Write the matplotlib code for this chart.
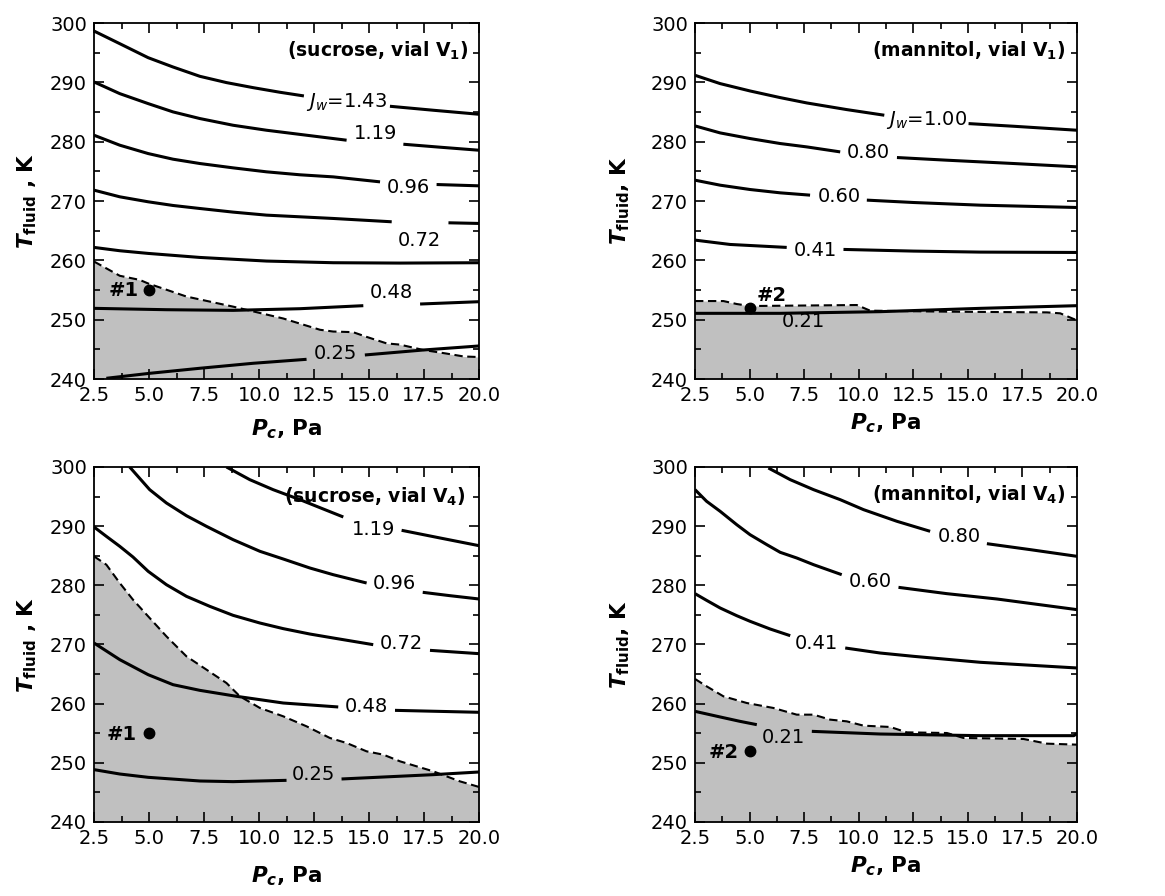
import matplotlib
matplotlib.use("Agg")
import matplotlib.pyplot as plt
from matplotlib.ticker import MultipleLocator, FormatStrFormatter

plt.rcParams['font.family'] = ['DejaVu Sans']
plt.rcParams['mathtext.fontset'] = 'custom'
plt.rcParams['mathtext.rm'] = 'DejaVu Sans'
plt.rcParams['mathtext.it'] = 'DejaVu Sans:italic:bold'
plt.rcParams['mathtext.bf'] = 'DejaVu Sans:bold'
plt.rcParams['mathtext.sf'] = 'DejaVu Sans:italic'

# ---------------- sucrose, vial V1 ----------------
tl_p143a = [2.5, 3.67, 4.96, 6.09, 7.31, 8.52, 9.73, 10.95, 12.04]
tl_t143a = [298.65, 296.52, 294.16, 292.59, 291.02, 289.96, 289.11, 288.33, 287.71]
tl_p143b = [15.95, 17.92, 20.0]
tl_t143b = [285.97, 285.30, 284.62]
tl_p119a = [2.5, 3.67, 4.96, 6.09, 7.31, 8.82, 10.34, 12.16, 13.98]
tl_t119a = [290.07, 288.1, 286.42, 285.02, 283.9, 282.77, 281.93, 281.09, 280.25]
tl_p119b = [16.56, 18.23, 20.0]
tl_t119b = [279.57, 279.07, 278.56]
tl_p096a = [2.5, 3.67, 4.96, 6.09, 7.31, 8.82, 10.34, 11.86, 13.37, 15.5]
tl_t096a = [281.09, 279.41, 278.0, 277.05, 276.32, 275.59, 274.92, 274.42, 274.07, 273.23]
tl_p096b = [18.07, 20.0]
tl_t096b = [272.78, 272.56]
tl_p072a = [2.5, 3.67, 4.96, 6.09, 7.31, 8.82, 10.34, 11.86, 13.37, 16.03]
tl_t072a = [271.83, 270.71, 269.87, 269.25, 268.74, 268.13, 267.62, 267.34, 267.06, 266.5]
tl_p072b = [18.61, 20.0]
tl_t072b = [266.33, 266.22]
tl_p060 = [2.5, 3.67, 4.96, 7.31, 10.34, 13.37, 16.41, 20.0]
tl_t060 = [262.18, 261.62, 261.17, 260.49, 259.88, 259.6, 259.54, 259.6]
tl_p048a = [2.5, 5.79, 8.82, 11.86, 14.74]
tl_t048a = [251.91, 251.68, 251.57, 251.85, 252.36]
tl_p048b = [17.32, 20.0]
tl_t048b = [252.64, 253.03]
tl_p025a = [3.06, 5.03, 7.31, 9.73, 12.16]
tl_t025a = [240.12, 240.96, 241.81, 242.65, 243.32]
tl_p025b = [14.81, 17.47, 20.0]
tl_t025b = [244.05, 244.89, 245.57]
tl_pdash = [2.5, 3.67, 4.58, 4.96, 6.7, 8.82, 11.1, 12.77, 13.37, 14.27, 14.89, 15.8, 16.4, 17.46, 18.5, 19.3, 20.0]
tl_tdash = [259.8, 257.4, 256.7, 256.1, 253.9, 252.2, 250.2, 248.3, 248.0, 247.9, 247.1, 246.0, 245.8, 244.9, 244.3, 243.8, 243.7]
tl_labels = [r'$\mathsf{J}_{\mathsf{w}}$=1.43', '1.19', '0.96', '0.72', '0.48', '0.25']
tl_label_p = [13.98, 15.31, 16.79, 17.29, 16.03, 13.48]
tl_label_t = [286.7, 281.37, 272.28, 263.41, 254.55, 244.22]

# ---------------- mannitol, vial V1 ----------------
tr_p100a = [2.5, 3.65, 5.02, 6.4, 7.62, 9.45, 11.17]
tr_t100a = [291.19, 289.79, 288.55, 287.43, 286.53, 285.41, 284.46]
tr_p100b = [15.03, 17.1, 20.0]
tr_t100b = [283.05, 282.6, 281.93]
tr_p080a = [2.5, 3.65, 5.02, 6.4, 7.62, 9.15]
tr_t080a = [282.66, 281.48, 280.53, 279.69, 279.12, 278.28]
tr_p080b = [11.75, 14.04, 17.1, 20.0]
tr_t080b = [277.33, 276.88, 276.32, 275.76]
tr_p060a = [2.5, 3.65, 5.02, 6.4, 7.77]
tr_t060a = [273.51, 272.67, 271.94, 271.38, 270.99]
tr_p060b = [10.37, 12.51, 15.57, 20.0]
tr_t060b = [270.15, 269.75, 269.30, 268.91]
tr_p041a = [2.5, 4.1, 6.7]
tr_t041a = [263.41, 262.68, 262.18]
tr_p041b = [9.3, 12.51, 15.57, 20.0]
tr_t041b = [261.84, 261.56, 261.39, 261.33]
tr_p021 = [2.5, 6.4, 10.98, 15.57, 20.0]
tr_t021 = [251.07, 251.07, 251.35, 251.91, 252.36]
tr_pdash = [2.5, 3.8, 4.41, 5.02, 9.91, 10.52, 14.04, 18.62, 19.23, 19.85, 20.0]
tr_tdash = [253.14, 253.14, 252.64, 252.3, 252.47, 251.52, 251.35, 251.23, 251.07, 250.11, 249.94]
tr_labels = [r'$\mathsf{J}_{\mathsf{w}}$=1.00', '0.80', '0.60', '0.41', '0.21']
tr_label_p = [13.09, 10.45, 9.12, 8.0, 7.47]
tr_label_t = [283.61, 278.11, 270.71, 261.73, 249.66]

# ---------------- sucrose, vial V4 ----------------
bl_p119a = [8.52, 9.58, 10.64, 11.86, 12.92, 13.83]
bl_t119a = [300.0, 297.86, 296.17, 294.48, 292.9, 291.55]
bl_p119b = [16.48, 18.23, 20.0]
bl_t119b = [289.3, 288.0, 286.7]
bl_p096a = [4.12, 5.03, 5.79, 6.7, 7.61, 8.82, 10.04, 11.1, 12.31, 13.37, 14.89]
bl_t096a = [300.0, 296.17, 293.92, 291.77, 289.97, 287.72, 285.75, 284.45, 282.93, 281.8, 280.39]
bl_p096b = [17.44, 18.68, 20.0]
bl_t096b = [278.82, 278.25, 277.69]
bl_p072a = [2.5, 3.06, 3.67, 4.27, 4.96, 5.79, 6.7, 7.76, 8.82, 10.04, 11.1, 12.31, 13.37, 15.19]
bl_t072a = [289.86, 288.28, 286.59, 284.79, 282.37, 280.11, 278.14, 276.45, 274.93, 273.63, 272.68, 271.77, 271.1, 269.97]
bl_p072b = [17.77, 20.0]
bl_t072b = [269.01, 268.45]
bl_p048a = [2.5, 3.67, 4.96, 6.09, 7.31, 8.98, 11.1, 13.6]
bl_t048a = [270.25, 267.44, 264.9, 263.21, 262.25, 261.24, 260.11, 259.44]
bl_p048b = [16.18, 20.0]
bl_t048b = [258.87, 258.54]
bl_p025a = [2.5, 3.67, 4.96, 7.31, 8.82, 11.25]
bl_t025a = [248.85, 248.11, 247.55, 246.93, 246.82, 247.04]
bl_p025b = [13.75, 17.92, 20.0]
bl_t025b = [247.27, 248.0, 248.45]
bl_pdash = [2.5, 3.06, 3.67, 4.27, 4.96, 5.79, 6.7, 7.61, 8.52, 9.13, 10.04, 11.1, 12.16, 13.22, 13.98, 14.89, 15.65, 16.41, 17.92, 19.13, 20.0]
bl_tdash = [284.9, 283.49, 280.39, 277.58, 274.76, 271.38, 268.0, 265.75, 263.49, 261.24, 259.27, 257.86, 256.17, 254.2, 253.35, 251.94, 251.38, 250.25, 248.56, 246.87, 245.92]
bl_labels = ['1.19', '0.96', '0.72', '0.48', '0.25']
bl_label_p = [15.22, 16.13, 16.48, 14.89, 12.49]
bl_label_t = [289.41, 280.39, 270.14, 259.55, 248.0]

# ---------------- mannitol, vial V4 ----------------
br_p080a = [5.86, 6.86, 7.93, 9.15, 10.22, 11.75, 13.27]
br_t080a = [299.83, 297.86, 296.17, 294.48, 292.79, 290.82, 289.13]
br_p080b = [15.87, 17.86, 20.0]
br_t080b = [287.04, 286.03, 284.9]
br_p060a = [2.5, 3.03, 3.65, 4.41, 5.02, 5.79, 6.4, 7.16, 7.93, 9.22]
br_t060a = [296.17, 294.2, 292.51, 290.25, 288.56, 286.87, 285.58, 284.62, 283.49, 281.8]
br_p060b = [11.82, 14.04, 16.33, 20.0]
br_t060b = [279.66, 278.59, 277.69, 275.89]
br_p041a = [2.5, 3.03, 3.65, 4.41, 5.02, 5.94, 6.86]
br_t041a = [278.59, 277.46, 276.17, 274.87, 273.92, 272.62, 271.49]
br_p041b = [9.38, 10.98, 12.51, 15.57, 20.0]
br_t041b = [269.41, 268.56, 268.0, 266.99, 266.03]
br_p021a = [2.5, 3.65, 4.56, 5.33]
br_t021a = [258.7, 257.75, 257.01, 256.45]
br_p021b = [7.85, 10.98, 15.57, 19.85, 20.0]
br_t021b = [255.32, 254.87, 254.59, 254.59, 254.93]
br_pdash = [2.5, 3.03, 3.8, 4.87, 6.09, 7.16, 7.93, 8.69, 9.45, 10.22, 11.44, 12.2, 14.04, 14.8, 17.55, 18.62, 20.0]
br_tdash = [264.17, 262.93, 261.24, 260.11, 259.27, 258.14, 258.14, 257.30, 257.01, 256.28, 256.06, 255.15, 255.04, 254.20, 254.03, 253.24, 253.07]
br_labels = ['0.80', '0.60', '0.41', '0.21']
br_label_p = [14.6, 10.55, 8.08, 6.55]
br_label_t = [288.28, 280.68, 270.14, 254.2]

# experimental points
pt_sucrose = (5.0, 255.0)
pt_mannitol = (5.0, 252.0)

fig = plt.figure(figsize=(11.65, 8.96), dpi=100)
ax_tl = fig.add_axes([0.0807, 0.577, 0.3305, 0.3973])
ax_tr = fig.add_axes([0.5966, 0.577, 0.3279, 0.3973])
ax_bl = fig.add_axes([0.0807, 0.0826, 0.3305, 0.3962])
ax_br = fig.add_axes([0.5966, 0.0826, 0.3279, 0.3962])

GREY = '#c0c0c0'


def setup(ax, ylab, xlab, ylabpad, xlabpad):
    ax.set_xlim(2.5, 20.0)
    ax.set_ylim(240, 300)
    ax.xaxis.set_major_locator(MultipleLocator(2.5))
    ax.xaxis.set_minor_locator(MultipleLocator(1.25))
    ax.yaxis.set_major_locator(MultipleLocator(10))
    ax.yaxis.set_minor_locator(MultipleLocator(5))
    ax.xaxis.set_major_formatter(FormatStrFormatter('%.1f'))
    ax.tick_params(which='both', direction='in', top=True, right=True, width=1.2)
    ax.tick_params(which='major', length=7, labelsize=14, pad=5)
    ax.tick_params(which='minor', length=4)
    for s in ax.spines.values():
        s.set_linewidth(1.3)
    ax.set_ylabel(ylab, fontsize=15.5, fontweight='bold', labelpad=ylabpad)
    ax.set_xlabel(xlab, fontsize=15.5, fontweight='bold', labelpad=xlabpad)


def draw(ax, lines, pdash, tdash, labels, lp, lt):
    ax.fill_between(pdash, tdash, 240, color=GREY, lw=0, zorder=1)
    for p, t in lines:
        ax.plot(p, t, color='black', lw=2.2, solid_capstyle='butt', zorder=3)
    ax.plot(pdash, tdash, color='black', lw=1.5, dashes=(4, 2.2), zorder=3)
    for s, x, y in zip(labels, lp, lt):
        ax.text(x, y, s, fontsize=14, ha='center', va='center', zorder=4)


def tag(ax, x, y, s, ha):
    ax.text(x, y, s, fontsize=14, fontweight='bold', ha=ha, va='center')


def title(ax, x, y, s):
    ax.text(x, y, s, fontsize=13.5, fontweight='bold', ha='right', va='center')


# top-left
draw(ax_tl,
     [(tl_p143a, tl_t143a), (tl_p143b, tl_t143b), (tl_p119a, tl_t119a), (tl_p119b, tl_t119b),
      (tl_p096a, tl_t096a), (tl_p096b, tl_t096b), (tl_p072a, tl_t072a), (tl_p072b, tl_t072b),
      (tl_p060, tl_t060), (tl_p048a, tl_t048a), (tl_p048b, tl_t048b),
      (tl_p025a, tl_t025a), (tl_p025b, tl_t025b)],
     tl_pdash, tl_tdash, tl_labels, tl_label_p, tl_label_t)
ax_tl.plot(*pt_sucrose, 'o', color='black', ms=7.5, zorder=5)
tag(ax_tl, 4.55, 255.0, '#1', 'right')
title(ax_tl, 19.5, 295.3, r'(sucrose, vial V$_{\mathbf{1}}$)')
setup(ax_tl, r'$T_{\mathbf{fluid}}$ , K', r'$P_{c}$, Pa', 8, 9)

# top-right
draw(ax_tr,
     [(tr_p100a, tr_t100a), (tr_p100b, tr_t100b), (tr_p080a, tr_t080a), (tr_p080b, tr_t080b),
      (tr_p060a, tr_t060a), (tr_p060b, tr_t060b), (tr_p041a, tr_t041a), (tr_p041b, tr_t041b),
      (tr_p021, tr_t021)],
     tr_pdash, tr_tdash, tr_labels, tr_label_p, tr_label_t)
ax_tr.plot(*pt_mannitol, 'o', color='black', ms=7.5, zorder=5)
tag(ax_tr, 5.3, 254.0, '#2', 'left')
title(ax_tr, 19.45, 295.3, r'(mannitol, vial V$_{\mathbf{1}}$)')
setup(ax_tr, r'$T_{\mathbf{fluid}}$, K', r'$P_{c}$, Pa', 14, 5)

# bottom-left
draw(ax_bl,
     [(bl_p119a, bl_t119a), (bl_p119b, bl_t119b), (bl_p096a, bl_t096a), (bl_p096b, bl_t096b),
      (bl_p072a, bl_t072a), (bl_p072b, bl_t072b), (bl_p048a, bl_t048a), (bl_p048b, bl_t048b),
      (bl_p025a, bl_t025a), (bl_p025b, bl_t025b)],
     bl_pdash, bl_tdash, bl_labels, bl_label_p, bl_label_t)
ax_bl.plot(*pt_sucrose, 'o', color='black', ms=7.5, zorder=5)
tag(ax_bl, 4.45, 254.8, '#1', 'right')
title(ax_bl, 19.4, 295.0, r'(sucrose, vial V$_{\mathbf{4}}$)')
setup(ax_bl, r'$T_{\mathbf{fluid}}$ , K', r'$P_{c}$, Pa', 8, 12)

# bottom-right
draw(ax_br,
     [(br_p080a, br_t080a), (br_p080b, br_t080b), (br_p060a, br_t060a), (br_p060b, br_t060b),
      (br_p041a, br_t041a), (br_p041b, br_t041b), (br_p021a, br_t021a), (br_p021b, br_t021b)],
     br_pdash, br_tdash, br_labels, br_label_p, br_label_t)
ax_br.plot(*pt_mannitol, 'o', color='black', ms=7.5, zorder=5)
tag(ax_br, 4.5, 251.7, '#2', 'right')
title(ax_br, 19.45, 295.3, r'(mannitol, vial V$_{\mathbf{4}}$)')
setup(ax_br, r'$T_{\mathbf{fluid}}$, K', r'$P_{c}$, Pa', 14, 5)

fig.savefig('out.png', dpi=100)
